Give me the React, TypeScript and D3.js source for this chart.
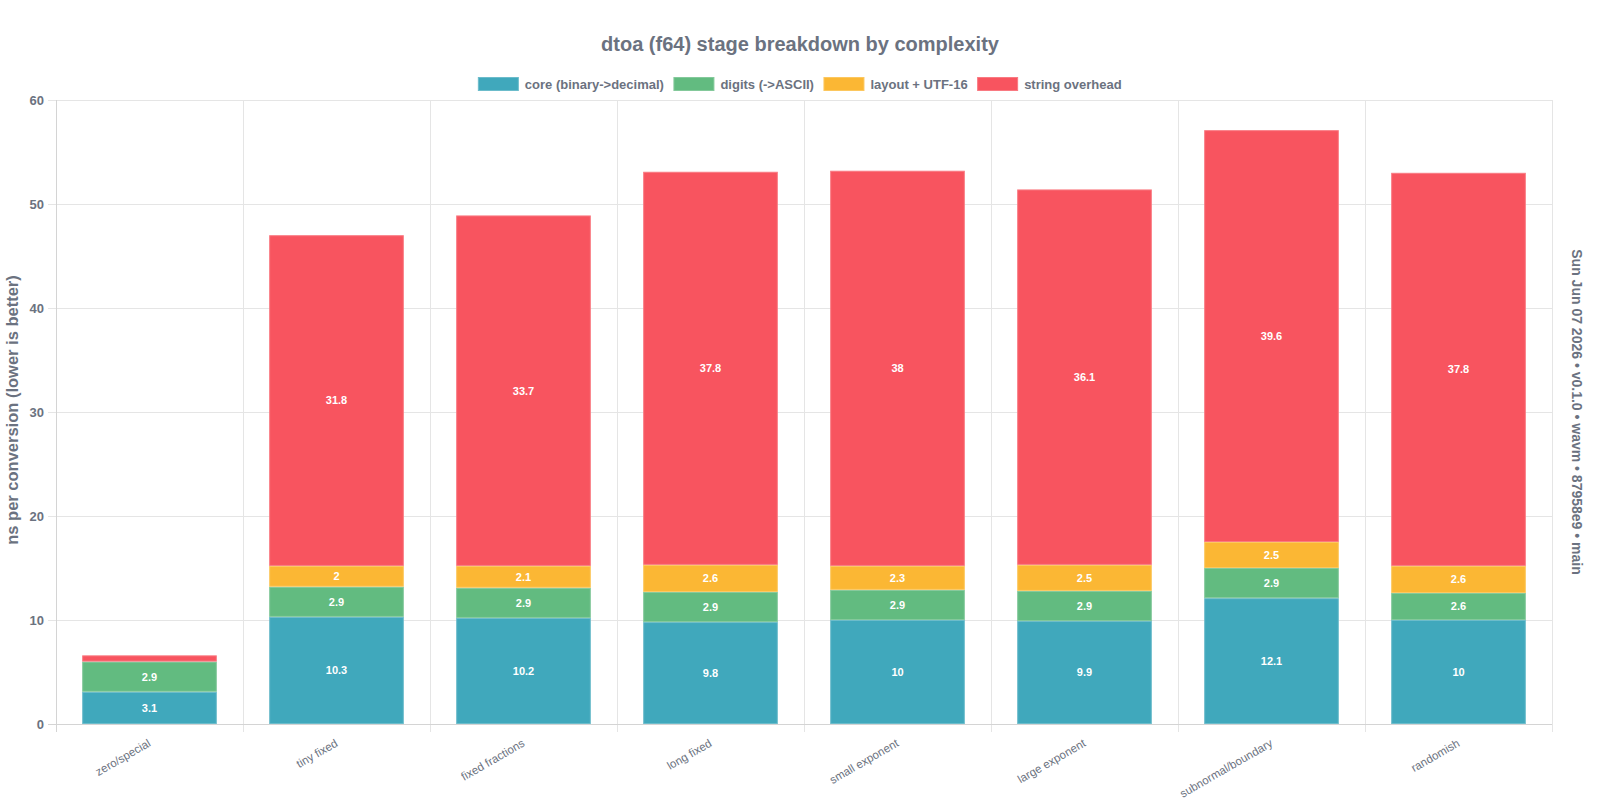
import React, { useRef, useEffect } from 'react';
import * as d3 from 'd3';

const categories = [
  'zero/special',
  'tiny fixed',
  'fixed fractions',
  'long fixed',
  'small exponent',
  'large exponent',
  'subnormal/boundary',
  'randomish',
];

const seriesNames = ['core (binary->decimal)', 'digits (->ASCII)', 'layout + UTF-16', 'string overhead'];
const seriesColors = ['#40a8bc', '#62bb80', '#fbb734', '#f8545f'];
const seriesStroke = ['#6cbccb', '#84c99b', '#fcc75f', '#f97a82'];

const core = [3.1, 10.3, 10.2, 9.8, 10, 9.9, 12.1, 10];
const digits = [2.9, 2.9, 2.9, 2.9, 2.9, 2.9, 2.9, 2.6];
const layout = [0, 2, 2.1, 2.6, 2.3, 2.5, 2.5, 2.6];
const overhead = [0.6, 31.8, 33.7, 37.8, 38, 36.1, 39.6, 37.8];

const yTicks = [0, 10, 20, 30, 40, 50, 60];

const title = 'dtoa (f64) stage breakdown by complexity';
const yTitle = 'ns per conversion (lower is better)';
const sideNote = 'Sun Jun 07 2026 • v0.1.0 • wavm • 87958e9 • main';

const FONT = "'Helvetica Neue', Helvetica, Arial, sans-serif";
const TEXT = '#6b7280';

const Chart = () => {
  const ref = useRef(null);

  useEffect(() => {
    document.body.style.margin = '0';
    const width = 1600;
    const height = 800;
    const left = 56, right = 1552, top = 100, bottom = 724;

    const svg = d3.select(ref.current).attr('width', width).attr('height', height);
    svg.selectAll('*').remove();
    svg.style('font-family', FONT);

    const x = d3.scaleBand().domain(categories).range([left, right]).paddingInner(0.28).paddingOuter(0.14);
    const cell = d3.scaleBand().domain(categories).range([left, right]);
    const y = d3.scaleLinear().domain([0, 60]).range([bottom, top]);

    // grid
    const grid = svg.append('g');
    grid.selectAll('line.h')
      .data(yTicks)
      .enter().append('line')
      .attr('x1', left - 8).attr('x2', right)
      .attr('y1', d => y(d) + 0.5).attr('y2', d => y(d) + 0.5)
      .attr('stroke', '#e5e5e5');
    const vx = categories.map(c => cell(c)).concat([right]);
    grid.selectAll('line.v')
      .data(vx)
      .enter().append('line')
      .attr('x1', d => Math.round(d) + 0.5).attr('x2', d => Math.round(d) + 0.5)
      .attr('y1', top).attr('y2', bottom + 8)
      .attr('stroke', '#e5e5e5');
    // axis lines
    svg.append('line').attr('x1', left + 0.5).attr('x2', left + 0.5).attr('y1', top).attr('y2', bottom + 8).attr('stroke', '#d4d4d4');
    svg.append('line').attr('x1', left - 8).attr('x2', right).attr('y1', bottom + 0.5).attr('y2', bottom + 0.5).attr('stroke', '#d4d4d4');

    // y tick labels
    svg.append('g').selectAll('text')
      .data(yTicks)
      .enter().append('text')
      .attr('x', 44)
      .attr('y', d => y(d))
      .attr('dy', '0.35em')
      .attr('text-anchor', 'end')
      .attr('font-size', 13)
      .attr('font-weight', 'bold')
      .attr('fill', TEXT)
      .text(d => d);

    // x tick labels
    svg.append('g').selectAll('text')
      .data(categories)
      .enter().append('text')
      .attr('transform', d => `translate(${cell(d) + cell.bandwidth() / 2},${bottom + 18}) rotate(-30)`)
      .attr('text-anchor', 'end')
      .attr('dy', '0.35em')
      .attr('font-size', 11.5)
      .attr('fill', TEXT)
      .text(d => d);

    // stacked bars
    const rows = categories.map((c, i) => ({ cat: c, s0: core[i], s1: digits[i], s2: layout[i], s3: overhead[i] }));
    const stack = d3.stack().keys(['s0', 's1', 's2', 's3']);
    const layers = stack(rows);

    layers.forEach((layer, k) => {
      const g = svg.append('g');
      g.selectAll('rect')
        .data(layer.filter(d => d[1] - d[0] > 0))
        .enter().append('rect')
        .attr('x', d => x(d.data.cat) + 0.5)
        .attr('width', x.bandwidth() - 1)
        .attr('y', d => y(d[1]) + 0.5)
        .attr('height', d => y(d[0]) - y(d[1]) - 1)
        .attr('fill', seriesColors[k])
        .attr('stroke', seriesStroke[k])
        .attr('stroke-width', 1);
      g.selectAll('text')
        .data(layer.filter(d => d[1] - d[0] >= 1))
        .enter().append('text')
        .attr('x', d => x(d.data.cat) + x.bandwidth() / 2)
        .attr('y', d => (y(d[0]) + y(d[1])) / 2)
        .attr('dy', '0.35em')
        .attr('text-anchor', 'middle')
        .attr('font-size', 11)
        .attr('font-weight', 'bold')
        .attr('fill', '#ffffff')
        .text(d => d3.format('.3~')(d[1] - d[0]));
    });

    // title
    svg.append('text')
      .attr('x', width / 2).attr('y', 51)
      .attr('text-anchor', 'middle')
      .attr('font-size', 20).attr('font-weight', 'bold')
      .attr('fill', TEXT)
      .text(title);

    // legend
    const legend = svg.append('g');
    const items = seriesNames.map((name, i) => {
      const g = legend.append('g');
      g.append('rect').attr('width', 40).attr('height', 13).attr('y', 77.5)
        .attr('fill', seriesColors[i]).attr('stroke', seriesStroke[i]);
      const t = g.append('text').attr('x', 46.5).attr('y', 88.5)
        .attr('font-size', 13).attr('font-weight', 'bold').attr('fill', TEXT).text(name);
      return { g, w: 46.5 + t.node().getComputedTextLength() };
    });
    const total = d3.sum(items, d => d.w) + 10 * (items.length - 1);
    let cx = width / 2 - total / 2;
    items.forEach(it => {
      it.g.attr('transform', `translate(${cx},0)`);
      cx += it.w + 10;
    });

    // y axis title
    svg.append('text')
      .attr('transform', `translate(18,${(top + bottom) / 2 - 2}) rotate(-90)`)
      .attr('text-anchor', 'middle')
      .attr('font-size', 16.5).attr('font-weight', 'bold')
      .attr('fill', TEXT)
      .text(yTitle);

    // build info on the right
    svg.append('text')
      .attr('transform', `translate(1572,${(top + bottom) / 2}) rotate(90)`)
      .attr('text-anchor', 'middle')
      .attr('font-size', 14).attr('font-weight', 'bold')
      .attr('fill', TEXT)
      .text(sideNote);
  }, []);

  return <svg ref={ref} style={{ display: 'block' }} />;
};

export default function App() {
  return <Chart />;
}
